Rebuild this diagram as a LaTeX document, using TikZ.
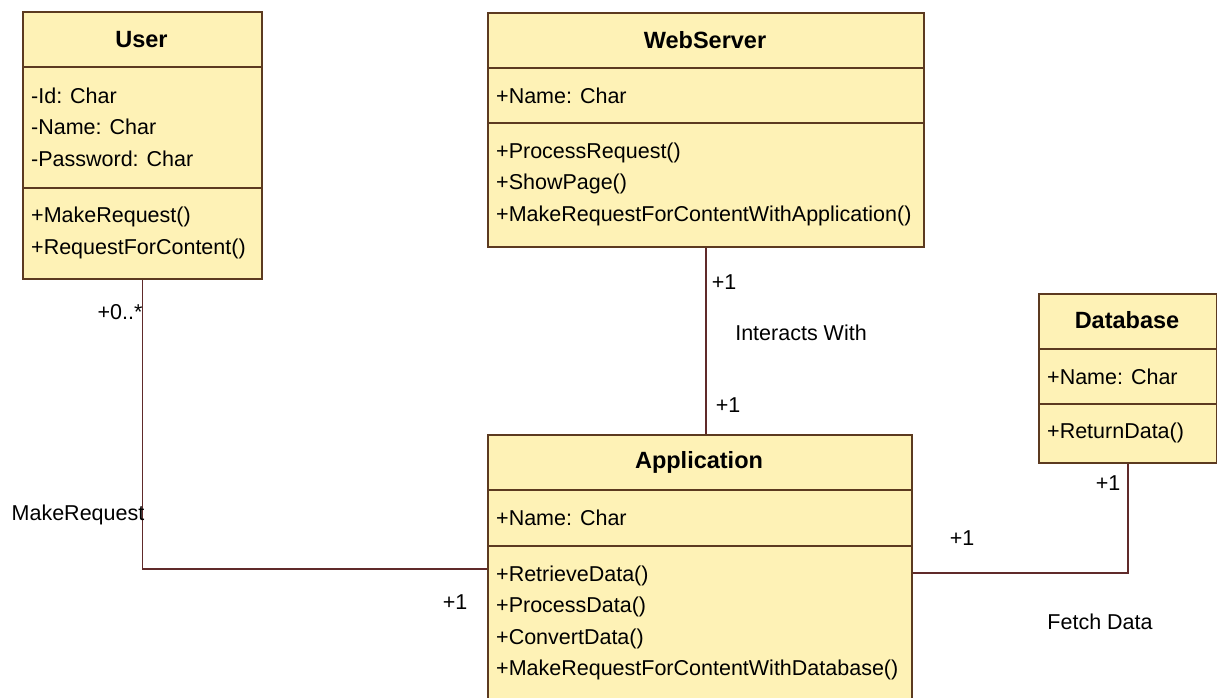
\documentclass[tikz,border=0pt]{standalone}
\usepackage{fontspec}
\setmainfont{Liberation Sans}
\usetikzlibrary{positioning}
\definecolor{classfill}{RGB}{254,242,182}
\definecolor{classedge}{RGB}{92,58,32}
\definecolor{assocline}{RGB}{96,42,42}

\begin{document}
\begin{tikzpicture}[x=1pt, y=-1pt,
  classbox/.style={draw=classedge, fill=classfill, line width=1.6pt, inner sep=0pt, anchor=north west},
  sepline/.style={draw=classedge, line width=1.6pt},
  classtitle/.style={font=\fontsize{23.5}{31.5}\selectfont\bfseries, inner sep=0pt},
  members/.style={font=\fontsize{21.5}{31.5}\selectfont, align=left, anchor=west, inner sep=0pt},
  assoc/.style={draw=assocline, line width=1.5pt},
  role/.style={font=\fontsize{21.5}{26}\selectfont, inner sep=0pt}]

\path [use as bounding box] (0,0) rectangle (1217,698);
\fill [white] (0,0) rectangle (1217,698);

% User
\node [classbox, minimum width=239, minimum height=267] (user) at (22,11) {};
\draw [sepline] (22,67) -- (261,67);
\draw [sepline] (22,188) -- (261,188);
\node [classtitle] (user-name) at (141.5,40) {User};
\node [members] (user-attr) at (31,127) {-Id: Char\\-Name: Char\\-Password: Char};
\node [members] (user-ops) at (31,233) {+MakeRequest()\\+RequestForContent()};

% WebServer
\node [classbox, minimum width=436, minimum height=234] (web) at (487,12) {};
\draw [sepline] (487,68) -- (923,68);
\draw [sepline] (487,123) -- (923,123);
\node [classtitle] (web-name) at (705,40) {WebServer};
\node [members] (web-attr) at (496,96) {+Name: Char};
\node [members] (web-ops) at (496,184) {+ProcessRequest()\\+ShowPage()\\+MakeRequestForContentWithApplication()};

% Database
\node [classbox, minimum width=178, minimum height=169] (db) at (1038,293) {};
\draw [sepline] (1038,349) -- (1216,349);
\draw [sepline] (1038,404) -- (1216,404);
\node [classtitle] (db-name) at (1127,320) {Database};
\node [members] (db-attr) at (1047,377) {+Name: Char};
\node [members] (db-ops) at (1047,433) {+ReturnData()};

% Application
\node [classbox, minimum width=424, minimum height=268] (app) at (487,434) {};
\draw [sepline] (487,490) -- (911,490);
\draw [sepline] (487,546) -- (911,546);
\node [classtitle] (app-name) at (699,462) {Application};
\node [members] (app-attr) at (496,518) {+Name: Char};
\node [members] (app-ops) at (496,623) {+RetrieveData()\\+ProcessData()\\+ConvertData()\\+MakeRequestForContentWithDatabase()};

% associations
\draw [assoc] (user.south) |- (app.west);
\draw [assoc] (web.south) -- (web.south |- app.north);
\draw [assoc] ([yshift=-4pt]app.east) -| (db.south);

\node [role] (user-mult) at (120,312) {+0..*};
\node [role] (req-label) at (78,515) {MakeRequest};
\node [role] (app-mult-l) at (455,602) {+1};
\node [role] (web-mult) at (724,282) {+1};
\node [role] (interact-label) at (801,333) {Interacts With};
\node [role] (app-mult-t) at (728,405) {+1};
\node [role] (app-mult-r) at (962,538) {+1};
\node [role] (db-mult) at (1108,483) {+1};
\node [role] (fetch-label) at (1100,622) {Fetch Data};
\end{tikzpicture}
\end{document}
